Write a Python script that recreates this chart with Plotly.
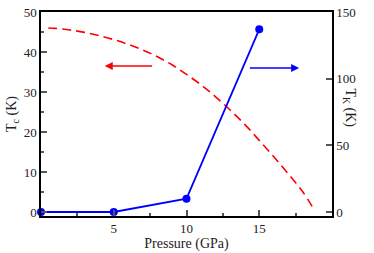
import plotly.graph_objects as go

# Data
pressure_tk = [0, 5, 10, 15]
tk_values = [0, 0, 10, 137]

pressure_tc = [0.5, 1, 2, 3, 4, 5, 6, 7, 8, 9, 10, 11, 12, 13, 14, 15, 16, 17, 18, 18.7]
tc_values = [46.0, 45.9, 45.5, 44.9, 44.1, 43.1, 41.9, 40.5, 38.8, 36.8, 34.4, 31.8,
             28.8, 25.5, 21.9, 17.9, 13.8, 9.5, 5.0, 1.0]

x_ticks = [5, 10, 15]
left_ticks = [0, 10, 20, 30, 40, 50]
right_ticks = [0, 50, 100, 150]

# arrow (start, end) in data coords
red_arrow = dict(x0=7.74, x1=4.38, y=36.5)
blue_arrow = dict(x0=14.25, x1=17.74, y=108)

FONT = "Liberation Serif, Times New Roman, serif"

fig = go.Figure()
fig.add_trace(go.Scatter(x=pressure_tc, y=tc_values, mode="lines",
                         line=dict(color="red", width=1.6, dash="9px,5px", shape="spline"),
                         yaxis="y", showlegend=False))
fig.add_trace(go.Scatter(x=pressure_tk, y=tk_values, mode="lines+markers",
                         line=dict(color="blue", width=1.8),
                         marker=dict(color="blue", size=8),
                         yaxis="y2", showlegend=False, cliponaxis=False))

axis_common = dict(showline=True, linecolor="black", linewidth=1.5, ticks="inside",
                   tickcolor="#555", ticklen=6, tickwidth=1.5, showgrid=False,
                   zeroline=False, automargin=False,
                   tickfont=dict(family=FONT, size=13, color="#222"))

fig.update_layout(
    width=374, height=253, margin=dict(l=41, r=42, t=12, b=37),
    paper_bgcolor="white", plot_bgcolor="white",
    font=dict(family=FONT),
    xaxis=dict(range=[0, 20], tickvals=x_ticks, mirror=True,
               minor=dict(dtick=2.5, tick0=0, ticks="inside", ticklen=3, tickcolor="#555"),
               title=dict(text="Pressure (GPa)", font=dict(family=FONT, size=14, color="#222"),
                          standoff=2),
               **axis_common),
    yaxis=dict(range=[-1, 50], tickvals=left_ticks,
               minor=dict(dtick=5, tick0=0, ticks="inside", ticklen=3, tickcolor="#555"),
               title=dict(text="T<sub>c</sub> (K)", font=dict(family=FONT, size=14, color="#222"),
                          standoff=4),
               **axis_common),
    yaxis2=dict(range=[-3, 150], tickvals=right_ticks, overlaying="y", side="right",
                **axis_common),
)

fig.add_annotation(x=red_arrow["x1"], y=red_arrow["y"], ax=red_arrow["x0"], ay=red_arrow["y"],
                   xref="x", yref="y", axref="x", ayref="y", showarrow=True, text="",
                   arrowhead=2, arrowsize=1, arrowwidth=1.6, arrowcolor="red")
fig.add_annotation(x=blue_arrow["x1"], y=blue_arrow["y"], ax=blue_arrow["x0"], ay=blue_arrow["y"],
                   xref="x", yref="y2", axref="x", ayref="y2", showarrow=True, text="",
                   arrowhead=2, arrowsize=1, arrowwidth=1.6, arrowcolor="blue")
fig.add_annotation(x=1.0, xref="paper", xshift=28, y=0.53, yref="paper",
                   text="T<sub>K</sub> (K)", textangle=90, showarrow=False,
                   font=dict(family=FONT, size=14, color="#222"))

fig.write_html("out.html", config={"displayModeBar": False},
               post_script="document.body.style.margin='0';")
